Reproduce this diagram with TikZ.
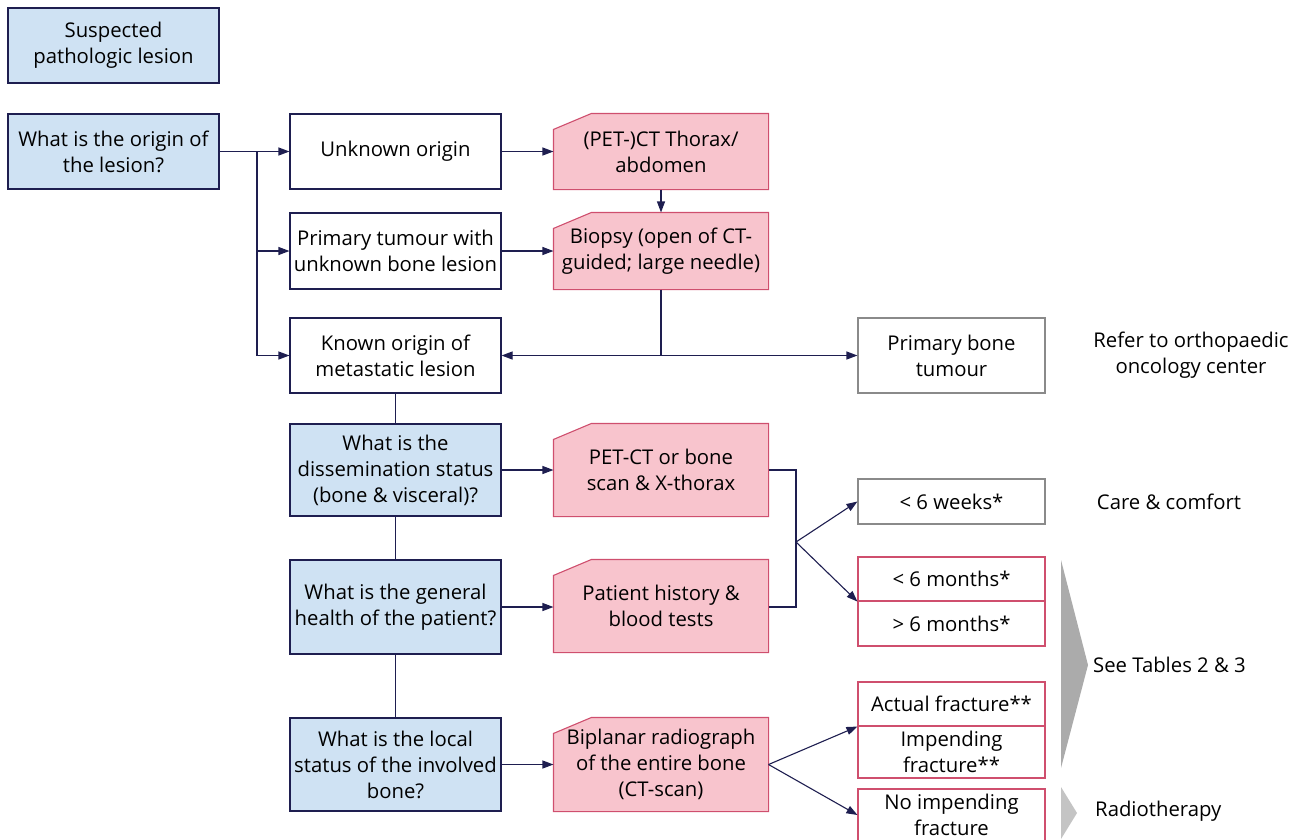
\documentclass[tikz,border=0pt]{standalone}
\usepackage{fontspec}
\setmainfont{Open Sans}
\usetikzlibrary{backgrounds,arrows.meta}
\definecolor{bluefill}{HTML}{CFE2F3}
\definecolor{navy}{HTML}{1E1E50}
\definecolor{pinkfill}{HTML}{F8C4CD}
\definecolor{pinkline}{HTML}{CF4F6E}
\definecolor{greyline}{HTML}{8A8A8A}
\definecolor{chevA}{HTML}{ABABAB}
\definecolor{chevB}{HTML}{C4C4C4}
\tikzset{
  base/.style={rectangle, inner sep=2pt, align=center, font=\fontsize{20.3}{26}\selectfont, line width=1.1pt},
  bluebox/.style={base, draw=navy, fill=bluefill, minimum width=211pt},
  whitebox/.style={base, draw=navy, fill=white, minimum width=211pt},
  greybox/.style={base, draw=greyline, fill=white, minimum width=187pt},
  redbox/.style={base, draw=pinkline, fill=white, minimum width=187pt},
  pinkbox/.style={base, minimum width=214pt},
  pinkshape/.style={draw=pinkline, fill=pinkfill, line width=1.1pt},
  conn/.style={draw=navy, line width=1.1pt},
  arr/.style={conn, -{Triangle[length=11pt,width=8pt]}},
  darr/.style={conn, {Triangle[length=11pt,width=8pt]}-{Triangle[length=11pt,width=8pt]}},
  plain/.style={align=center, font=\fontsize{20.3}{26}\selectfont, inner sep=0pt},
}
\begin{document}
\begin{tikzpicture}[x=1pt,y=-1pt]
\useasboundingbox (0,0) rectangle (1298,839);
\clip (0,0) rectangle (1298,839);
% left column
\node[bluebox, minimum height=75pt] (S) at (113.5,45.5) {Suspected\\pathologic lesion};
\node[bluebox, minimum height=75pt] (O) at (113.5,151.5) {What is the origin of\\the lesion?};
% second column
\node[whitebox, minimum height=75pt] (U) at (395.5,151.5) {Unknown origin};
\node[whitebox, minimum height=76pt] (PR) at (395.5,251) {Primary tumour with\\unknown bone lesion};
\node[whitebox, minimum height=75pt] (KO) at (395.5,355.5) {Known origin of\\metastatic lesion};
\node[bluebox, minimum height=92pt] (DS) at (395.5,470) {What is the\\dissemination status\\(bone \& visceral)?};
\node[bluebox, minimum height=94pt] (GH) at (395.5,607) {What is the general\\health of the patient?};
\node[bluebox, minimum height=93pt] (LS) at (395.5,764.5) {What is the local\\status of the involved\\bone?};
% third column (pink)
\node[pinkbox, minimum height=75pt] (PT) at (661,151.5) {(PET-)CT Thorax/\\abdomen};
\node[pinkbox, minimum height=76pt] (BI) at (661,251) {Biopsy (open of CT-\\guided; large needle)};
\node[pinkbox, minimum height=92pt] (PC) at (661,470) {PET-CT or bone\\scan \& X-thorax};
\node[pinkbox, minimum height=92pt] (PH) at (661,606) {Patient history \&\\blood tests};
\node[pinkbox, minimum height=93pt] (BR) at (661,764.5) {Biplanar radiograph\\of the entire bone\\(CT-scan)};
\begin{scope}[on background layer]
\foreach \n in {PT,BI,PC,PH,BR}{
  \draw[pinkshape] (\n.south west) -- ([yshift=-16pt]\n.north west) -- ([xshift=38pt]\n.north west) -- (\n.north east) -- (\n.south east) -- cycle;
}
\end{scope}
% fourth column
\node[greybox, minimum height=75pt] (PB) at (951.5,355.5) {Primary bone\\tumour};
\node[greybox, minimum height=45pt] (W6) at (951.5,501.5) {< 6 weeks*};
\node[redbox, minimum height=44pt] (M6a) at (951.5,579) {< 6 months*};
\node[redbox, minimum height=45pt] (M6b) at (951.5,623.5) {> 6 months*};
\node[redbox, minimum height=44pt] (AF) at (951.5,704) {Actual fracture**};
\node[redbox, minimum height=52pt] (IF) at (951.5,752) {Impending\\fracture**};
\node[redbox, minimum height=52pt] (NI) at (951.5,815) {No impending\\fracture};
% right texts
\node[plain] (RF) at (1191,355) {Refer to orthopaedic\\oncology center};
\node[plain] (CC) at (1169,502) {Care \& comfort};
\node[plain, anchor=west] (ST) at (1093,665) {See Tables 2 \& 3};
\node[plain, anchor=west] (RT) at (1095,811) {Radiotherapy};
% chevrons
\fill[chevA] (1061,560) -- (1088,665) -- (1061,768) -- cycle;
\fill[chevB] (1061,787) -- (1077,813) -- (1061,839) -- cycle;
% connectors
\coordinate (J1) at (257,151.5);
\draw[arr] (O.east) -- (U.west);
\draw[conn] (J1) |- (KO.west);
\draw[arr] (J1) |- (PR.west);
\draw[arr] (J1) |- (KO.west);
\draw[arr] (U.east) -- (PT.west |- U.east);
\draw[arr] (PR.east) -- (BI.west |- PR.east);
\draw[arr] (PT.south) -- (BI.north);
\coordinate (J2) at (BI.south |- KO.west);
\draw[conn] (BI.south) -- (J2);
\draw[darr] (KO.east) -- (PB.west);
\draw[conn] (KO.south) -- (DS.north);
\draw[conn] (DS.south) -- (GH.north);
\draw[conn] (GH.south) -- (LS.north);
\draw[arr] (DS.east) -- (PC.west |- DS.east);
\draw[arr] (GH.east) -- (PH.west |- GH.east);
\draw[arr] (LS.east) -- (BR.west |- LS.east);
\coordinate (J3) at (796,470);
\coordinate (J4) at (796,607);
\coordinate (J5) at (796,542);
\draw[conn] (PC.east |- J3) -- (J3) -- (J4) -- (PH.east |- J4);
\draw[arr] (J5) -- (W6.west);
\draw[arr] (J5) -- (M6a.south west);
\draw[arr] (BR.east) -- (AF.south west);
\draw[arr] (BR.east) -- (NI.west);
\end{tikzpicture}
\end{document}
